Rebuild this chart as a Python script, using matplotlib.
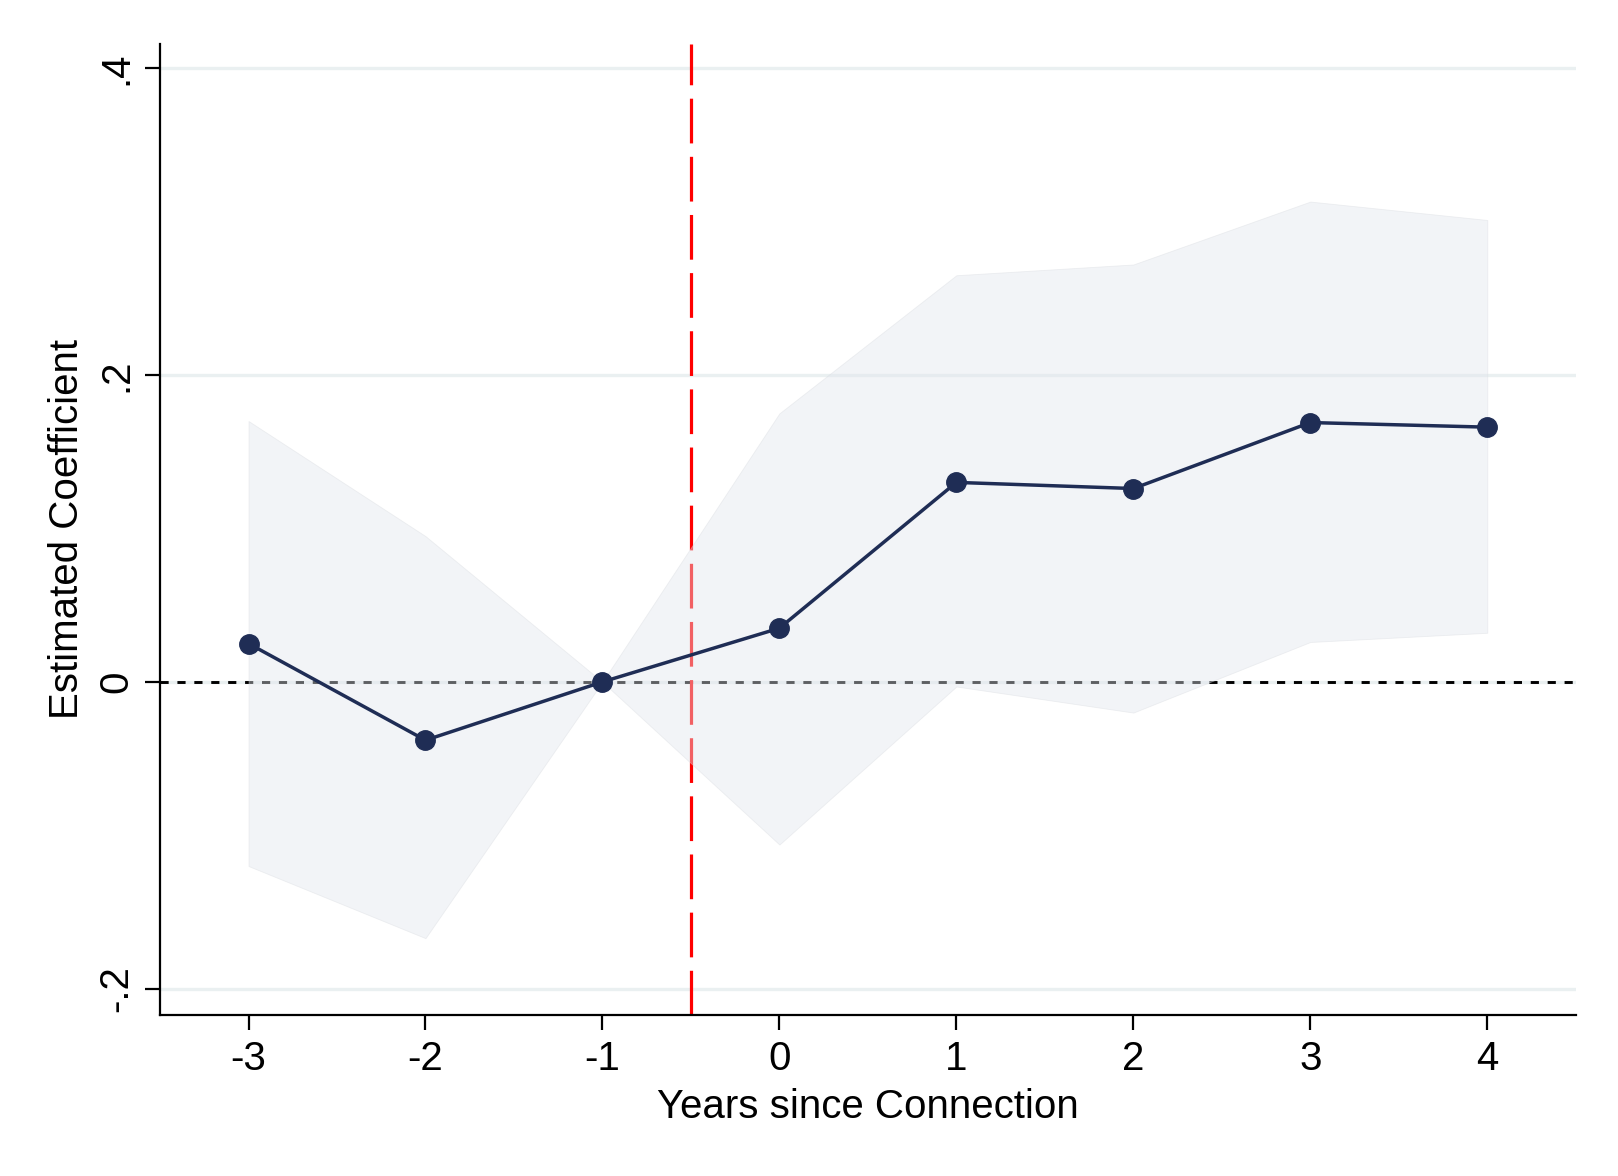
import matplotlib
matplotlib.use("Agg")
import matplotlib.pyplot as plt

# event-study estimates
years = [-3, -2, -1, 0, 1, 2, 3, 4]
coef = [0.025, -0.038, 0.0, 0.035, 0.130, 0.126, 0.169, 0.166]
ci_upper = [0.170, 0.095, 0.0, 0.175, 0.265, 0.272, 0.313, 0.301]
ci_lower = [-0.120, -0.167, 0.0, -0.106, -0.003, -0.020, 0.026, 0.032]

yticks = [-0.2, 0, 0.2, 0.4]
ytick_labels = ["-.2", "0", ".2", ".4"]

plt.rcParams["font.family"] = ["Liberation Sans", "DejaVu Sans"]

fig = plt.figure(figsize=(16.18, 11.76), dpi=100)
ax = fig.add_axes([0.0989, 0.137, 0.875, 0.826])

ax.set_xlim(-3.5, 4.5)
ax.set_ylim(-0.217, 0.416)

# horizontal grid
for y in yticks:
    ax.axhline(y, color="#eaf0f1", lw=2.4, zorder=0)

ax.axhline(0, color="black", lw=2.1, dashes=(2.8, 3.0), zorder=1)
ax.axvline(-0.5, color="#ff0000", lw=2.3, dashes=(14.0, 4.2), zorder=1)

# confidence band drawn over the reference lines
ax.fill_between(years, ci_lower, ci_upper, color="#e2e6ed", alpha=0.42,
                edgecolor="#d8dbe0", linewidth=0.6, zorder=2)

ax.plot(years, coef, color="#1f2d55", lw=2.5, marker="o", markersize=14,
        zorder=3)

ax.spines["top"].set_visible(False)
ax.spines["right"].set_visible(False)
ax.spines["left"].set_linewidth(1.6)
ax.spines["bottom"].set_linewidth(1.6)

ax.set_xticks(years)
ax.set_xticklabels([str(y) for y in years])
ax.set_yticks(yticks)
ax.set_yticklabels(ytick_labels, rotation=90, va="center")
ax.tick_params(axis="both", length=11, width=1.6, labelsize=29, pad=7)

ax.set_xlabel("Years since Connection", fontsize=29, labelpad=7)
ax.set_ylabel("Estimated Coefficient", fontsize=29, labelpad=8)

fig.savefig("out.png", dpi=100)
